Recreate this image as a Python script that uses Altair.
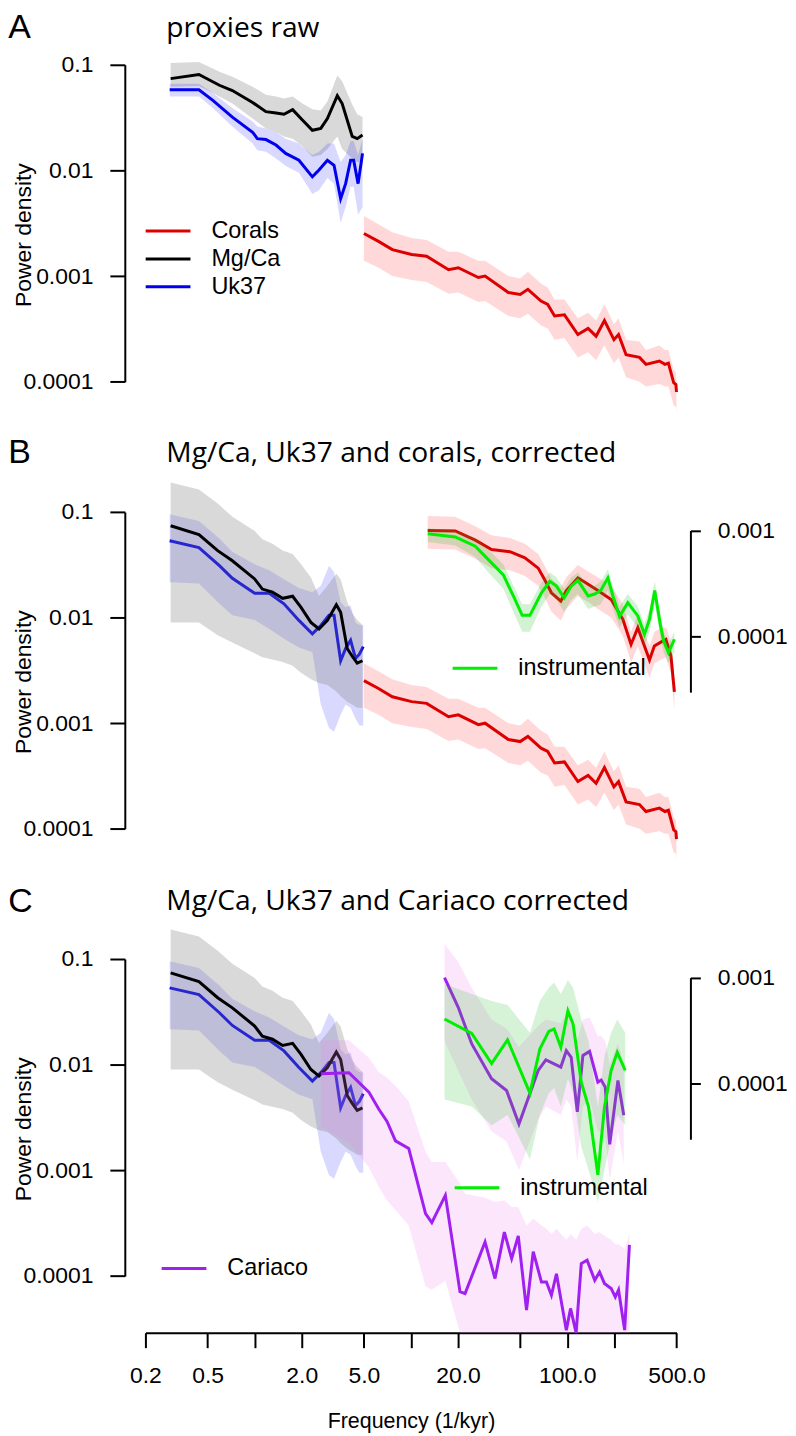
import altair as alt
import pandas as pd

RED = "#dd0000"
BLACK = "#000000"
BLUE = "#0000ee"
GREEN = "#00ee00"
PURPLE = "#a020f0"

# ---------------- Panel A: raw proxies ----------------
mgca_raw_f = [0.29, 0.44, 0.595, 0.72, 0.97, 1.18, 1.37, 1.54, 1.75, 2.02, 2.34, 2.65, 2.92, 3.38, 3.63, 4.21, 4.53, 4.9]
mgca_raw_v = [0.074, 0.081, 0.064, 0.057, 0.044, 0.036, 0.035, 0.034, 0.0376, 0.030, 0.024, 0.025, 0.031, 0.051, 0.043, 0.021, 0.020, 0.0216]
mgca_raw_hi = [0.104, 0.106, 0.086, 0.077, 0.062, 0.052, 0.050, 0.048, 0.050, 0.043, 0.038, 0.037, 0.045, 0.079, 0.070, 0.042, 0.034, 0.032]
mgca_raw_lo = [0.062, 0.063, 0.050, 0.043, 0.031, 0.025, 0.023, 0.021, 0.020, 0.017, 0.0135, 0.014, 0.016, 0.021, 0.016, 0.013, 0.012, 0.012]

uk37_raw_f = [0.286, 0.44, 0.54, 0.72, 0.97, 1.04, 1.18, 1.37, 1.58, 1.92, 2.34, 2.58, 2.92, 3.22, 3.55, 3.82, 4.11, 4.3, 4.59, 4.9]
uk37_raw_v = [0.058, 0.058, 0.046, 0.032, 0.023, 0.020, 0.0196, 0.0174, 0.0145, 0.0125, 0.0087, 0.0101, 0.0125, 0.0112, 0.0054, 0.0075, 0.0125, 0.0125, 0.0075, 0.0145]
uk37_raw_hi = [0.066, 0.066, 0.054, 0.039, 0.029, 0.026, 0.025, 0.023, 0.020, 0.018, 0.014, 0.015, 0.018, 0.018, 0.012, 0.014, 0.019, 0.019, 0.014, 0.020]
uk37_raw_lo = [0.050, 0.050, 0.039, 0.026, 0.018, 0.0155, 0.015, 0.013, 0.011, 0.0095, 0.006, 0.0065, 0.0085, 0.0075, 0.0032, 0.0045, 0.007, 0.007, 0.0038, 0.0045]

corals_f = [5.0, 6.2, 7.6, 10.1, 12.6, 17.4, 20.1, 27.0, 29.8, 42, 50, 56, 68, 75, 83, 96, 117, 136, 153, 173, 199, 213, 238, 290, 319, 389, 422, 444, 480, 496, 500]
corals_v = [0.00253, 0.00213, 0.00178, 0.0016, 0.00154, 0.00115, 0.0012, 0.00097, 0.001, 0.0007, 0.00067, 0.00075, 0.00058, 0.00054, 0.00042, 0.00043, 0.00028, 0.00032, 0.00027, 0.00038, 0.00025, 0.00028, 0.00018, 0.00017, 0.000146, 0.000157, 0.000146, 0.00015, 0.0000978, 0.000094, 0.00008]
corals_hi = [0.0037, 0.0031, 0.0026, 0.0023, 0.0022, 0.0017, 0.0017, 0.0014, 0.0014, 0.001, 0.00095, 0.0011, 0.00085, 0.00078, 0.0006, 0.0006, 0.0004, 0.00045, 0.00038, 0.00054, 0.00035, 0.0004, 0.00025, 0.00024, 0.0002, 0.00022, 0.0002, 0.0002, 0.00013, 0.00012, 0.0001]
corals_lo = [0.0014, 0.0012, 0.001, 0.00092, 0.00088, 0.00068, 0.0007, 0.00057, 0.00058, 0.00042, 0.0004, 0.00044, 0.00034, 0.00032, 0.00025, 0.00026, 0.00017, 0.00019, 0.00016, 0.00022, 0.00015, 0.00017, 0.00011, 0.0001, 0.00009, 0.000095, 0.00009, 0.00009, 0.00006, 0.000058, 0.00005]

# ---------------- Panels B and C: corrected proxies ----------------
mgca_cor_f = [0.29, 0.44, 0.58, 0.72, 1.0, 1.12, 1.3, 1.51, 1.75, 1.98, 2.29, 2.58, 2.92, 3.33, 3.55, 3.91, 4.21, 4.53, 4.9]
mgca_cor_v = [0.074, 0.061, 0.043, 0.0345, 0.0232, 0.0186, 0.0174, 0.0152, 0.0159, 0.0125, 0.009, 0.0078, 0.0094, 0.0132, 0.0112, 0.0051, 0.0043, 0.0037, 0.0039]
mgca_cor_hi = [0.19, 0.163, 0.12, 0.09, 0.066, 0.055, 0.05, 0.043, 0.04, 0.032, 0.024, 0.016, 0.02, 0.026, 0.023, 0.014, 0.011, 0.0095, 0.0085]
mgca_cor_lo = [0.009, 0.009, 0.0068, 0.0058, 0.0046, 0.0042, 0.004, 0.0038, 0.0035, 0.003, 0.0026, 0.0024, 0.0023, 0.002, 0.0018, 0.0016, 0.0015, 0.0014, 0.0014]

uk37_cor_f = [0.286, 0.44, 0.595, 0.72, 1.0, 1.24, 1.54, 1.92, 2.34, 2.65, 2.99, 3.22, 3.55, 3.82, 4.11, 4.42, 4.68, 4.95]
uk37_cor_v = [0.0533, 0.046, 0.031, 0.0235, 0.017, 0.017, 0.0135, 0.0094, 0.007, 0.0084, 0.0105, 0.0105, 0.0039, 0.0051, 0.0061, 0.0041, 0.0045, 0.0053]
uk37_cor_hi = [0.095, 0.082, 0.056, 0.042, 0.032, 0.028, 0.023, 0.019, 0.0174, 0.02, 0.031, 0.027, 0.014, 0.0125, 0.013, 0.009, 0.0085, 0.0084]
uk37_cor_lo = [0.0216, 0.021, 0.0135, 0.0105, 0.0095, 0.0078, 0.0063, 0.0052, 0.0047, 0.0015, 0.0009, 0.00083, 0.0012, 0.0015, 0.0014, 0.0011, 0.00095, 0.00095]

# inset (right axis) of panel B
coral_ins_f = [12.8, 19.2, 25.8, 32.8, 43.0, 53.6, 65.2, 71.9, 79.2, 91.0, 98.7, 117, 136, 157, 191, 227, 256, 283, 336, 361, 400, 428, 461, 485]
coral_ins_v = [0.001, 0.00099, 0.00081, 0.00066, 0.00063, 0.00055, 0.00044, 0.00034, 0.000257, 0.000214, 0.00027, 0.000356, 0.00031, 0.00027, 0.000222, 0.000144, 0.0000832, 0.00012, 0.0000593, 0.0000805, 0.000088, 0.000093, 0.0000646, 0.0000295]
coral_ins_hi = [0.00137, 0.00135, 0.0011, 0.0009, 0.00085, 0.00075, 0.0006, 0.00046, 0.00035, 0.00029, 0.00036, 0.00047, 0.00041, 0.00036, 0.0003, 0.0002, 0.00011, 0.00016, 0.00008, 0.00011, 0.00012, 0.00012, 0.00009, 0.00004]
coral_ins_lo = [0.00067, 0.00066, 0.00054, 0.00044, 0.00042, 0.00037, 0.0003, 0.00023, 0.00017, 0.00014, 0.00018, 0.00024, 0.00021, 0.00018, 0.00015, 0.0001, 0.000056, 0.00008, 0.00004, 0.000055, 0.00006, 0.000063, 0.000044, 0.00002]

instr_b_f = [12.8, 19.2, 25.8, 31.3, 39.0, 45.2, 51.5, 57.7, 68.4, 77.4, 85.3, 95.5, 106, 117, 136, 150, 164, 182, 196, 216, 244, 283, 312, 336, 363, 394, 414, 444, 485]
instr_b_v = [0.00093, 0.00087, 0.00071, 0.00053, 0.00038, 0.00024, 0.000157, 0.000157, 0.000257, 0.00033, 0.000297, 0.00023, 0.000297, 0.000337, 0.00024, 0.00025, 0.00027, 0.000356, 0.00024, 0.000153, 0.000207, 0.000155, 0.000104, 0.000144, 0.00027, 0.000129, 0.0000897, 0.0000695, 0.0000932]
instr_b_hi = [0.00105, 0.001, 0.00085, 0.00066, 0.00048, 0.0003, 0.0002, 0.0002, 0.00032, 0.0004, 0.00036, 0.00028, 0.00036, 0.0004, 0.0003, 0.0003, 0.00033, 0.00043, 0.0003, 0.00019, 0.00025, 0.00019, 0.00013, 0.00018, 0.00033, 0.00016, 0.00011, 0.000085, 0.00011]
instr_b_lo = [0.00078, 0.00072, 0.00056, 0.0004, 0.00028, 0.00017, 0.00011, 0.00011, 0.00019, 0.00025, 0.00022, 0.00017, 0.00022, 0.00025, 0.00018, 0.00019, 0.0002, 0.00027, 0.00018, 0.00012, 0.00016, 0.00012, 0.00008, 0.00011, 0.0002, 0.0001, 0.00007, 0.000055, 0.00007]

# panel C: Cariaco
cariaco_f = [2.65, 4.01, 5.38, 6.22, 7.03, 7.96, 9.68, 12.4, 13.6, 16.6, 20.6, 22.2, 29.8, 34.5, 39.6, 44.1, 48.6, 54.9, 60.6, 68.4, 73.6, 79.2, 85.3, 98.7, 105, 114, 123, 134, 150, 161, 173, 191, 203, 213, 233, 250]
cariaco_v = [0.0082, 0.0084, 0.0055, 0.0038, 0.0029, 0.0019, 0.00161, 0.00039, 0.00032, 0.00058, 0.000071, 0.000068, 0.00021, 0.0000945, 0.00026, 0.000146, 0.00024, 0.0000475, 0.00017, 0.0000876, 0.0000876, 0.0000657, 0.000105, 0.0000307, 0.0000493, 0.0000289, 0.000131, 0.000141, 0.000091, 0.000109, 0.000085, 0.0000762, 0.0000632, 0.0000738, 0.0000307, 0.000197]
cariaco_hi = [0.017, 0.017, 0.0116, 0.0085, 0.0075, 0.0063, 0.0045, 0.0015, 0.0012, 0.0012, 0.00075, 0.0006, 0.00055, 0.0005, 0.00052, 0.00045, 0.00045, 0.0003, 0.00035, 0.0003, 0.00028, 0.00025, 0.00028, 0.00022, 0.00025, 0.00022, 0.00028, 0.0003, 0.00025, 0.00026, 0.00024, 0.00022, 0.0002, 0.0002, 0.00018, 0.00025]
cariaco_lo = [0.0026, 0.0018, 0.00107, 0.0007, 0.00052, 0.00042, 0.0003, 0.00008, 0.000074, 0.00009, 0.000029, 0.000029, 0.000029, 0.000029, 0.000029, 0.000029, 0.000029, 0.000029, 0.000029, 0.000029, 0.000029, 0.000029, 0.000029, 0.000029, 0.000029, 0.000029, 0.000029, 0.000029, 0.000029, 0.000029, 0.000029, 0.000029, 0.000029, 0.000029, 0.000029, 0.000029]

cariaco_ins_f = [16.4, 20.1, 24.5, 32.8, 40.9, 49.1, 65.2, 73.0, 91.0, 98.7, 106, 116, 126, 139, 157, 165, 175, 187, 211, 230]
cariaco_ins_v = [0.001, 0.00052, 0.000235, 0.00011, 0.0000852, 0.0000409, 0.000132, 0.000166, 0.000142, 0.000203, 0.000176, 0.0000535, 0.000183, 0.0002, 0.000102, 0.000107, 0.0000917, 0.0000263, 0.000106, 0.0000497]
cariaco_ins_hi = [0.0021, 0.0014, 0.0008, 0.0004, 0.00033, 0.00022, 0.00035, 0.0004, 0.00037, 0.00045, 0.0004, 0.00025, 0.0004, 0.00042, 0.00028, 0.00028, 0.00025, 0.00015, 0.00024, 0.00015]
cariaco_ins_lo = [0.00025, 0.00013, 0.00007, 0.000035, 0.000028, 0.000015, 0.000045, 0.00006, 0.00005, 0.00007, 0.00006, 0.000018, 0.00006, 0.00007, 0.000035, 0.000035, 0.00003, 0.000012, 0.000035, 0.000017]

instr_c_f = [16.4, 24.5, 32.8, 41.5, 57.7, 66.8, 76.2, 82.4, 91.0, 101, 109, 123, 137, 157, 173, 191, 209, 235]
instr_c_v = [0.000405, 0.000296, 0.000153, 0.000257, 0.0000806, 0.000211, 0.00031, 0.000326, 0.000219, 0.000485, 0.000363, 0.000102, 0.0000592, 0.0000135, 0.0000592, 0.000132, 0.000196, 0.000132]
instr_c_hi = [0.00087, 0.0007, 0.0006, 0.00055, 0.0003, 0.0006, 0.0008, 0.0009, 0.0007, 0.00095, 0.0008, 0.0004, 0.00025, 0.00006, 0.00018, 0.0003, 0.0004, 0.0003]
instr_c_lo = [0.00007, 0.00006, 0.00004, 0.00005, 0.000019, 0.00005, 0.00008, 0.00009, 0.00006, 0.00011, 0.00008, 0.000025, 0.000015, 0.0000075, 0.000015, 0.00003, 0.00005, 0.00004]

x_ticks = [0.2, 0.5, 1, 2, 5, 10, 20, 50, 100, 200, 500]
y_ticks = [0.0001, 0.001, 0.01, 0.1]
r_ticks = [0.001, 0.0001]

W = 533.3
H = 318.3
LW = 3.0


def frame(f, v, hi=None, lo=None, s=""):
    d = {"f": f, "v": v, "s": [s] * len(f)}
    if hi is not None:
        d["hi"] = hi
        d["lo"] = lo
    return pd.DataFrame(d)


XS = alt.Scale(type="log", domain=[0.2, 500], nice=False)
YS = alt.Scale(type="log", domain=[0.0001, 0.1], nice=False)
RS = alt.Scale(type="log", domain=[2.94e-5, 0.001], range=[181.0, 18.7], nice=False)

AX_L = alt.Axis(orient="left", values=y_ticks, format="~g", offset=20.7, tickSize=15,
                tickWidth=2, domainWidth=2, labelFontSize=23, labelPadding=17,
                labelOverlap=False, labelFlush=False, title=None)
AX_R = alt.Axis(orient="right", values=r_ticks, format="~g", offset=14, tickSize=10,
                tickWidth=2, domainWidth=2, labelFontSize=23, labelPadding=17,
                labelOverlap=False, labelFlush=False, title=None)
AX_X = alt.Axis(values=x_ticks, offset=57, tickSize=15, tickWidth=2, domainWidth=2,
                labelFontSize=23, labelPadding=17, labelOverlap=False, labelFlush=False,
                labelExpr="indexof([1, 10, 50, 200], datum.value) >= 0 ? '' : format(datum.value, '.1f')",
                title="Frequency (1/kyr)", titleFontSize=21.5, titlePadding=23,
                titleFontWeight="normal")


def band(d, color, opacity, xax, ys, yax):
    return alt.Chart(d).mark_area(color=color, opacity=opacity, strokeWidth=0).encode(
        x=alt.X("f:Q", scale=XS, axis=xax),
        y=alt.Y("hi:Q", scale=ys, axis=yax),
        y2="lo:Q",
    )


def line(d, color, xax, ys, yax, width=LW):
    return alt.Chart(d).mark_line(color=color, strokeWidth=width).encode(
        x=alt.X("f:Q", scale=XS, axis=xax),
        y=alt.Y("v:Q", scale=ys, axis=yax),
        detail="s:N",
    )


def legend(lx, ly):
    # horizontal stroke symbol, 45 px long
    return alt.Legend(orient="none", legendX=lx, legendY=ly, title=None,
                      symbolType="M-2,0H2", symbolSize=506, symbolStrokeWidth=3,
                      symbolFillColor="transparent",
                      labelFont="Liberation Sans", labelFontSize=23.5, labelColor="black",
                      labelOffset=30.5, rowPadding=3, padding=0)


def text(t, x, y, size, font, angle=0, align="left"):
    return alt.Chart(pd.DataFrame({"t": [t]})).mark_text(
        font=font, fontSize=size, align=align, baseline="alphabetic", color="black", angle=angle
    ).encode(text="t:N", x=alt.value(x), y=alt.value(y))


def labels(letter, ly, title, ty):
    return [
        text(letter, -137.7, ly, 34, "Liberation Sans"),
        text(title, 21, ty, 28.3, "Open Sans"),
        text("Power density", -114.7, 171, 23, "Liberation Sans", angle=270, align="center"),
    ]


# ---- Panel A ----
d_mgca_raw = frame(mgca_raw_f, mgca_raw_v, mgca_raw_hi, mgca_raw_lo, "Mg/Ca")
d_uk_raw = frame(uk37_raw_f, uk37_raw_v, uk37_raw_hi, uk37_raw_lo, "Uk37")
d_cor = frame(corals_f, corals_v, corals_hi, corals_lo, "Corals")
d_lines_a = pd.concat([d_cor, d_mgca_raw, d_uk_raw])

lines_a = alt.Chart(d_lines_a).mark_line(strokeWidth=LW).encode(
    x=alt.X("f:Q", scale=XS, axis=None),
    y=alt.Y("v:Q", scale=YS, axis=AX_L),
    color=alt.Color("s:N", scale=alt.Scale(domain=["Corals", "Mg/Ca", "Uk37"], range=[RED, BLACK, BLUE]),
                    legend=legend(9.75, 154.0)),
)

panel_a = alt.layer(
    band(d_mgca_raw, "#808080", 0.3, None, YS, AX_L),
    band(d_uk_raw, "#0000ff", 0.15, None, YS, AX_L),
    band(d_cor, "#ff0000", 0.15, None, YS, AX_L),
    lines_a,
    *labels("A", -27.0, "proxies raw", -28.0),
).properties(width=W, height=H)

# ---- Panel B ----
d_mgca_cor = frame(mgca_cor_f, mgca_cor_v, mgca_cor_hi, mgca_cor_lo, "Mg/Ca")
d_uk_cor = frame(uk37_cor_f, uk37_cor_v, uk37_cor_hi, uk37_cor_lo, "Uk37")
d_cor_ins = frame(coral_ins_f, coral_ins_v, coral_ins_hi, coral_ins_lo, "Corals")
d_ins_b = frame(instr_b_f, instr_b_v, instr_b_hi, instr_b_lo, "instrumental")

left_b = alt.layer(
    band(d_uk_cor, "#0000ff", 0.15, None, YS, AX_L),
    line(d_uk_cor, BLUE, None, YS, AX_L),
    band(d_mgca_cor, "#808080", 0.3, None, YS, AX_L),
    line(d_mgca_cor, BLACK, None, YS, AX_L),
    band(d_cor, "#ff0000", 0.15, None, YS, AX_L),
    line(d_cor, RED, None, YS, AX_L),
    *labels("B", -49.5, "Mg/Ca, Uk37 and corals, corrected", -50.0),
)


def green_line(d, xax, lx, ly):
    return alt.Chart(d).mark_line(strokeWidth=LW).encode(
        x=alt.X("f:Q", scale=XS, axis=xax),
        y=alt.Y("v:Q", scale=RS, axis=AX_R),
        color=alt.Color("s:N", scale=alt.Scale(domain=["instrumental"], range=[GREEN]),
                        legend=legend(lx, ly)),
    )


right_b = alt.layer(
    band(d_cor_ins, "#ff0000", 0.15, None, RS, AX_R),
    line(d_cor_ins, RED, None, RS, AX_R),
    band(d_ins_b, "#22bb22", 0.2, None, RS, AX_R),
    green_line(d_ins_b, None, 318.0, 143.9),
)

panel_b = alt.layer(left_b, right_b).resolve_scale(y="independent").properties(width=W, height=H)

# ---- Panel C ----
d_car = frame(cariaco_f, cariaco_v, cariaco_hi, cariaco_lo, "Cariaco")
d_car_ins = frame(cariaco_ins_f, cariaco_ins_v, cariaco_ins_hi, cariaco_ins_lo, "Cariaco")
d_ins_c = frame(instr_c_f, instr_c_v, instr_c_hi, instr_c_lo, "instrumental")

car_line = alt.Chart(d_car).mark_line(strokeWidth=LW).encode(
    x=alt.X("f:Q", scale=XS, axis=AX_X),
    y=alt.Y("v:Q", scale=YS, axis=AX_L),
    stroke=alt.Stroke("s:N", scale=alt.Scale(domain=["Cariaco"], range=[PURPLE]),
                      legend=legend(25.75, 297.8)),
)

left_c = alt.layer(
    band(d_uk_cor, "#0000ff", 0.15, AX_X, YS, AX_L),
    line(d_uk_cor, BLUE, AX_X, YS, AX_L),
    band(d_mgca_cor, "#808080", 0.3, AX_X, YS, AX_L),
    line(d_mgca_cor, BLACK, AX_X, YS, AX_L),
    band(d_car, "#ee82ee", 0.2, AX_X, YS, AX_L),
    car_line,
    *labels("C", -47.5, "Mg/Ca, Uk37 and Cariaco corrected", -49.7),
)

right_c = alt.layer(
    band(d_car_ins, "#ee82ee", 0.2, AX_X, RS, AX_R),
    line(d_car_ins, PURPLE, AX_X, RS, AX_R),
    band(d_ins_c, "#22bb22", 0.18, AX_X, RS, AX_R),
    green_line(d_ins_c, AX_X, 320.0, 216.8),
)

panel_c = alt.layer(left_c, right_c).resolve_scale(y="independent").properties(width=W, height=H)

chart = alt.vconcat(panel_a, panel_b, panel_c, spacing=130, bounds="flush").resolve_scale(
    x="independent", y="independent", color="independent", stroke="independent"
).properties(
    padding={"left": 0, "right": 0, "top": 0, "bottom": 5}
).configure_view(stroke=None).configure_axis(
    grid=False, labelFont="Liberation Sans", titleFont="Liberation Sans",
    labelColor="black", titleColor="black", domainColor="black", tickColor="black"
)

chart.save("out.html", embed_options={"renderer": "svg", "actions": False})
